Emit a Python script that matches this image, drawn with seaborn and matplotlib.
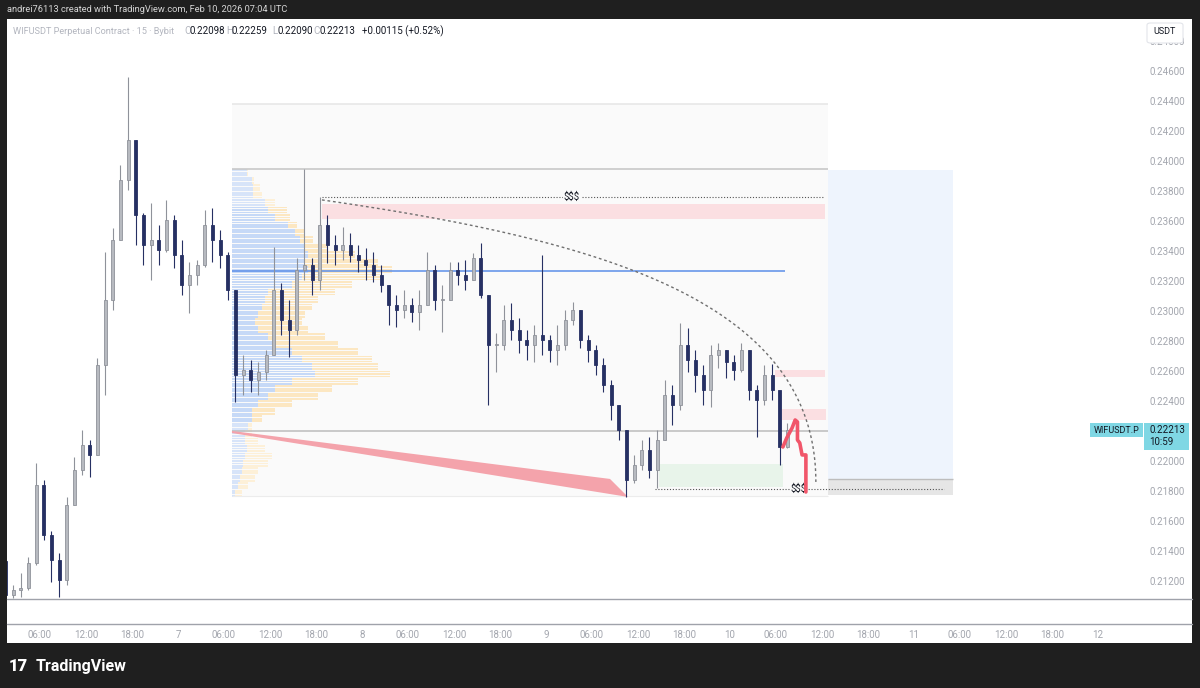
import numpy as np
import pandas as pd
import seaborn as sns
import matplotlib.pyplot as plt
import matplotlib.transforms as mtransforms
from matplotlib.patches import Rectangle, Polygon, FancyBboxPatch
from matplotlib.lines import Line2D

# ---- candle data: 1h bars (hours since Feb 6 00:00 UTC) ----
first_open = 0.21340
closes = [0.21113, 0.21147, 0.21160, 0.21327, 0.21847, 0.21513, 0.21347, 0.21213, 0.21713, 0.21947,
          0.22113, 0.22047, 0.22647, 0.23080, 0.23480, 0.23880, 0.24147, 0.23647, 0.23447, 0.23480,
          0.23413, 0.23613, 0.23380, 0.23180, 0.23247, 0.23313, 0.23580, 0.23480, 0.23380, 0.23147,
          0.22580, 0.22613, 0.22547, 0.22600, 0.22713, 0.23147, 0.22947, 0.22880, 0.23280, 0.23313,
          0.23213, 0.23580, 0.23447, 0.23413, 0.23447, 0.23380, 0.23347, 0.23313, 0.23247, 0.23180,
          0.23047, 0.23013, 0.23047, 0.23000, 0.23047, 0.23280, 0.23080, 0.23080, 0.23280, 0.23247,
          0.23213, 0.23360, 0.23113, 0.22780, 0.22780, 0.22947, 0.22880, 0.22813, 0.22780, 0.22847,
          0.22813, 0.22747, 0.22780, 0.22947, 0.23013, 0.22813, 0.22747, 0.22647, 0.22513, 0.22380,
          0.22213, 0.21880, 0.21980, 0.22080, 0.21947, 0.22147, 0.22447, 0.22380, 0.22780, 0.22680,
          0.22580, 0.22480, 0.22713, 0.22747, 0.22667, 0.22613, 0.22747, 0.22480, 0.22413, 0.22580,
          0.22480, 0.22100, 0.22213]
highs = [0.21500, 0.21180, 0.21260, 0.21367, 0.21993, 0.21880, 0.21540, 0.21393, 0.21767, 0.22033,
         0.22213, 0.22147, 0.22693, 0.23400, 0.23560, 0.23980, 0.24567, 0.24147, 0.23660, 0.23727,
         0.23580, 0.23747, 0.23647, 0.23480, 0.23333, 0.23347, 0.23680, 0.23693, 0.23547, 0.23400,
         0.23147, 0.22713, 0.22680, 0.22667, 0.22747, 0.23433, 0.23193, 0.23080, 0.23360, 0.23953,
         0.23360, 0.23767, 0.23647, 0.23513, 0.23567, 0.23527, 0.23447, 0.23427, 0.23400, 0.23313,
         0.23180, 0.23113, 0.23147, 0.23093, 0.23147, 0.23400, 0.23313, 0.23180, 0.23333, 0.23333,
         0.23347, 0.23393, 0.23460, 0.23113, 0.22860, 0.23047, 0.23060, 0.22960, 0.22880, 0.22913,
         0.23380, 0.22847, 0.22913, 0.23013, 0.23067, 0.23013, 0.22847, 0.22780, 0.22693, 0.22547,
         0.22380, 0.22213, 0.22047, 0.22147, 0.22167, 0.22213, 0.22547, 0.22513, 0.22927, 0.22893,
         0.22747, 0.22647, 0.22780, 0.22793, 0.22747, 0.22713, 0.22793, 0.22747, 0.22513, 0.22647,
         0.22653, 0.22447, 0.22259]
lows = [0.21100, 0.21093, 0.21100, 0.21147, 0.21313, 0.21480, 0.21200, 0.21100, 0.21180, 0.21713,
        0.21913, 0.21900, 0.22047, 0.22447, 0.23013, 0.23480, 0.23813, 0.23447, 0.23313, 0.23213,
        0.23313, 0.23400, 0.23293, 0.23113, 0.22993, 0.23180, 0.23300, 0.23333, 0.23293, 0.23080,
        0.22400, 0.22447, 0.22467, 0.22447, 0.22547, 0.22713, 0.22847, 0.22700, 0.22847, 0.23213,
        0.23113, 0.23147, 0.23327, 0.23313, 0.23347, 0.23333, 0.23267, 0.23213, 0.23200, 0.23133,
        0.22913, 0.22900, 0.22960, 0.22933, 0.22880, 0.23047, 0.23013, 0.22867, 0.23080, 0.23180,
        0.23147, 0.23213, 0.23093, 0.22380, 0.22600, 0.22747, 0.22813, 0.22727, 0.22680, 0.22667,
        0.22713, 0.22667, 0.22647, 0.22747, 0.22913, 0.22760, 0.22667, 0.22580, 0.22467, 0.22280,
        0.22147, 0.21767, 0.21860, 0.21947, 0.21893, 0.21827, 0.22147, 0.22247, 0.22347, 0.22600,
        0.22467, 0.22380, 0.22367, 0.22627, 0.22560, 0.22547, 0.22600, 0.22413, 0.22167, 0.22380,
        0.22413, 0.21980, 0.22090]
hours = list(range(1, len(closes) + 1))

# ---- fixed range volume profile (rows top -> bottom, arbitrary volume units) ----
vp_up = [15, 20, 21, 21, 33, 36, 43, 56, 63, 68, 73, 76, 73, 76, 70, 60, 36, 33, 30, 26, 23, 26,
         36, 40, 60, 70, 80, 83, 60, 43, 36, 26, 20, 20, 16, 13, 13, 15, 13, 11, 10, 8, 6, 3]
vp_down = [1, 2, 7, 9, 10, 19, 15, 9, 10, 13, 23, 47, 73, 84, 80, 60, 67, 53, 50, 47, 47, 50,
           57, 66, 66, 70, 66, 75, 66, 57, 50, 34, 23, 10, 4, 7, 13, 18, 27, 25, 16, 15, 10, 7]
vp_range = (31.04, 0.23953, 0.21767)      # start hour, top price, bottom price
vp_value_area = (0.22247, 0.23700)
poc = (31.04, 103.2, 0.23273)

# ---- drawings (hour, price) ----
range_box = (31.04, 108.78, 0.21773, 0.24387)
box_lines = [0.24387, 0.23953, 0.22207]
supply_zones = [(42.78, 108.4, 0.23620, 0.23720),
                (101.9, 108.4, 0.22567, 0.22613),
                (102.8, 108.5, 0.22280, 0.22353)]
demand_zone = (86.74, 102.9, 0.21833, 0.21987)
target_box = (108.78, 125.09, 0.21887, 0.23947)
stop_box = (108.78, 125.09, 0.21780, 0.21887)
liquidity = [(42.78, 108.1, 0.23767, 75.4), (86.2, 123.9, 0.21820, 105.0)]
arc_ctrl = [(42.78, 0.23747), (79.04, 0.23480), (107.2, 0.23080), (107.2, 0.21867)]
wedge = [(31.04, 0.22207), (80.35, 0.21887), (82.7, 0.21767), (31.04, 0.22193)]
path_h = [102.9, 103.4, 104.1, 104.5, 104.8, 104.8, 105.1, 105.4, 105.9, 105.9]
path_p = [0.22100, 0.22160, 0.22227, 0.22280, 0.22267, 0.22147, 0.22127, 0.22047, 0.22047, 0.21800]

price_ticks = [0.212, 0.214, 0.216, 0.218, 0.220, 0.222, 0.224, 0.226, 0.228, 0.230,
               0.232, 0.234, 0.236, 0.238, 0.240, 0.242, 0.244, 0.246, 0.248]
time_ticks = [6, 12, 18, 24, 30, 36, 42, 48, 54, 60, 66, 72, 78, 84, 90, 96, 102, 108,
              114, 120, 126, 132, 138, 144]
time_labels = ['06:00', '12:00', '18:00', '7', '06:00', '12:00', '18:00', '8', '06:00', '12:00',
               '18:00', '9', '06:00', '12:00', '18:00', '10', '06:00', '12:00', '18:00', '11',
               '06:00', '12:00', '18:00', '12']

sns.set_theme(style="white")
plt.rcParams['font.family'] = ['Roboto', 'DejaVu Sans']

W, H = 1200, 688
fig = plt.figure(figsize=(12, 6.88), dpi=100, facecolor='#1f1f1f')


def fx(x):
    return x / W


def fy(y):
    return 1 - y / H


# white chart panel (behind the axes)
fig.patches.append(Rectangle((fx(7), fy(643)), 1185 / W, 624 / H, transform=fig.transFigure,
                             facecolor='white', edgecolor='none', zorder=-1))

ax = fig.add_axes([fx(7), fy(624), 1185 / W, 605 / H])
ax.set_zorder(1)
ax.set_facecolor('none')
ax.set_xlim(1.70, 156.26)
ax.set_ylim(0.2092, 0.24953)
for s in ax.spines.values():
    s.set_visible(False)

# range box + blue/grey position boxes
h0, h1, p0, p1 = range_box
ax.add_patch(Rectangle((h0, p0), h1 - h0, p1 - p0, facecolor='#fafafa', edgecolor='none', zorder=0.5))
for p, c in zip(box_lines, ['#e6e6e6', '#c4c4c4', '#bcbcbc']):
    ax.hlines(p, h0, h1, colors=c, lw=1.1, zorder=2)
ax.hlines(p0, h0, h1, colors='#ececec', lw=0.8, zorder=2)
for (a, b, lo, hi), col in [(target_box, '#eef4fd'), (stop_box, '#e6e6e6')]:
    ax.add_patch(Rectangle((a, lo), b - a, hi - lo, facecolor=col, edgecolor='none', zorder=0.6))
ax.hlines(stop_box[3], stop_box[0], stop_box[1], colors='#bdbdbd', lw=1, zorder=2)

for a, b, lo, hi in supply_zones:
    ax.add_patch(Rectangle((a, lo), b - a, hi - lo, facecolor='#fbdfe2', edgecolor='none', zorder=1))
a, b, lo, hi = demand_zone
ax.add_patch(Rectangle((a, lo), b - a, hi - lo, facecolor='#e8f4ea', edgecolor='none', zorder=1))

# volume profile
up = np.array(vp_up, dtype=float)
dn = np.array(vp_down, dtype=float)
start, top, bot = vp_range
step = (top - bot) / len(up)
centers = top - (np.arange(len(up)) + 0.5) * step
scale = 20.9 / (up + dn).max()
in_va = (centers > vp_value_area[0]) & (centers < vp_value_area[1])
blue = np.where(in_va, '#c6d9f7', '#d7e4f9')
yellow = np.where(in_va, '#fce7c2', '#fdf0d8')
for k in range(3):
    yy = centers + (k - 1) * step / 3
    ax.barh(yy, up * scale, left=start, height=step / 3 * 0.72, color=blue, lw=0, zorder=1.5)
    ax.barh(yy, dn * scale, left=start + up * scale, height=step / 3 * 0.72, color=yellow, lw=0, zorder=1.5)
ax.hlines(poc[2], poc[0], poc[1], colors='#5b8ee8', lw=1.1, zorder=2.5)

# wedge
ax.add_patch(Polygon(wedge, closed=True, facecolor='#f4a3ab', edgecolor='none', zorder=2))

# candles
df = pd.DataFrame({'hour': hours, 'close': closes, 'high': highs, 'low': lows})
df['open'] = [first_open] + closes[:-1]
df['x'] = df['hour'] + 0.5
is_up = df['close'] >= df['open']
cols = np.where(is_up, '#8f929a', '#263063')
ax.vlines(df['x'], df['low'], df['high'], colors=cols, lw=0.8, zorder=3)
body = (df['close'] - df['open']).abs().clip(lower=0.00004)
ax.bar(df['x'], body, bottom=df[['open', 'close']].min(axis=1), width=0.42,
       color=np.where(is_up, '#b7bac0', '#263063'), edgecolor=cols, lw=0.6, zorder=4)

# liquidity lines
for a, b, p, lab in liquidity:
    ax.hlines(p, a, b, colors='#555555', lw=0.8, linestyles=(0, (1, 1.6)), zorder=5)
    ax.text(lab, p, '$$$', ha='center', va='center', fontsize=7, color='#131722', zorder=6,
            bbox=dict(boxstyle='square,pad=0.1', fc='#fafafa', ec='none'))

# dashed arc (bezier from the drawing's anchor points)
P = np.array(arc_ctrl)
t = np.linspace(0, 1, 120)[:, None]
curve = ((1 - t) ** 3) * P[0] + 3 * ((1 - t) ** 2) * t * P[1] + 3 * (1 - t) * t ** 2 * P[2] + t ** 3 * P[3]
ax.plot(curve[:, 0], curve[:, 1], color='#6f6f6f', lw=1, ls=(0, (2, 2)), zorder=5)

# projected path
proj = pd.DataFrame({'h': path_h, 'p': path_p})
sns.lineplot(data=proj, x='h', y='p', sort=False, estimator=None, color='#f1566a', lw=2.6,
             ax=ax, zorder=6)
ax.set_xlabel('')
ax.set_ylabel('')

# axes ticks
ax.set_xticks(time_ticks)
ax.set_xticklabels(time_labels)
ax.tick_params(axis='x', length=0, pad=4, labelsize=7, labelcolor='#a3a6ae')
ax.set_yticks([])
trans = mtransforms.blended_transform_factory(fig.transFigure, ax.transData)
for p in price_ticks:
    ax.text(fx(1150), p, f'{p:.5f}', transform=trans, ha='left', va='center', fontsize=7,
            color='#a3a6ae', clip_on=False)

# pane separator lines
for yline in (599, 624):
    fig.add_artist(Line2D([fx(7), fx(1192)], [fy(yline), fy(yline)], color='#9fa2aa', lw=1, zorder=2))

# last price labels
fig.canvas.draw()
last_y = ax.transData.transform((0, closes[-1]))[1]
ly = H - last_y
fig.patches.append(Rectangle((fx(1090), fy(ly + 7)), 53 / W, 14 / H, transform=fig.transFigure,
                             facecolor='#7fd7e4', edgecolor='none', zorder=5))
fig.patches.append(Rectangle((fx(1144), fy(ly + 20)), 45 / W, 27 / H, transform=fig.transFigure,
                             facecolor='#7fd7e4', edgecolor='none', zorder=5))
fig.text(fx(1116.5), fy(ly), 'WIFUSDT.P', ha='center', va='center', fontsize=6.5, color='#131722', zorder=6)
fig.text(fx(1149), fy(ly), f'{closes[-1]:.5f}', ha='left', va='center', fontsize=7, color='#131722', zorder=6)
fig.text(fx(1149), fy(ly + 12), '10:59', ha='left', va='center', fontsize=7, color='#131722', zorder=6)

# currency box
fig.patches.append(FancyBboxPatch((fx(1147), fy(43)), 36 / W, 20 / H, transform=fig.transFigure,
                                  boxstyle='round,pad=0,rounding_size=0.003', facecolor='white',
                                  edgecolor='#e3e5ea', lw=0.8, zorder=5))
fig.text(fx(1165), fy(32), 'USDT', ha='center', va='center', fontsize=6.5, color='#131722', zorder=6)

# header + legend
fig.text(fx(7), fy(10), 'andrei76113 created with TradingView.com, Feb 10, 2026 07:04 UTC',
         ha='left', va='center', fontsize=6.7, color='#d6d6d6')
legend = [(13, 'WIFUSDT Perpetual Contract · 15 · Bybit', '#b2b5be', 6.6),
          (184, 'O', '#b2b5be', 7), (190, '0.22098', '#131722', 7),
          (226, 'H', '#b2b5be', 7), (232, '0.22259', '#131722', 7),
          (272, 'L', '#b2b5be', 7), (277, '0.22090', '#131722', 7),
          (313, 'C', '#b2b5be', 7), (319, '0.22213', '#131722', 7),
          (362, '+0.00115 (+0.52%)', '#131722', 7)]
for x, s, c, fs in legend:
    fig.text(fx(x), fy(31), s, ha='left', va='center', fontsize=fs, color=c)

# footer logo
fig.text(fx(9), fy(666), '17', ha='left', va='center', fontsize=12, fontweight='black', color='white')
fig.text(fx(36), fy(666), 'TradingView', ha='left', va='center', fontsize=11.5, fontweight='bold',
         color='white')

fig.savefig('out.png', dpi=100, facecolor=fig.get_facecolor())
